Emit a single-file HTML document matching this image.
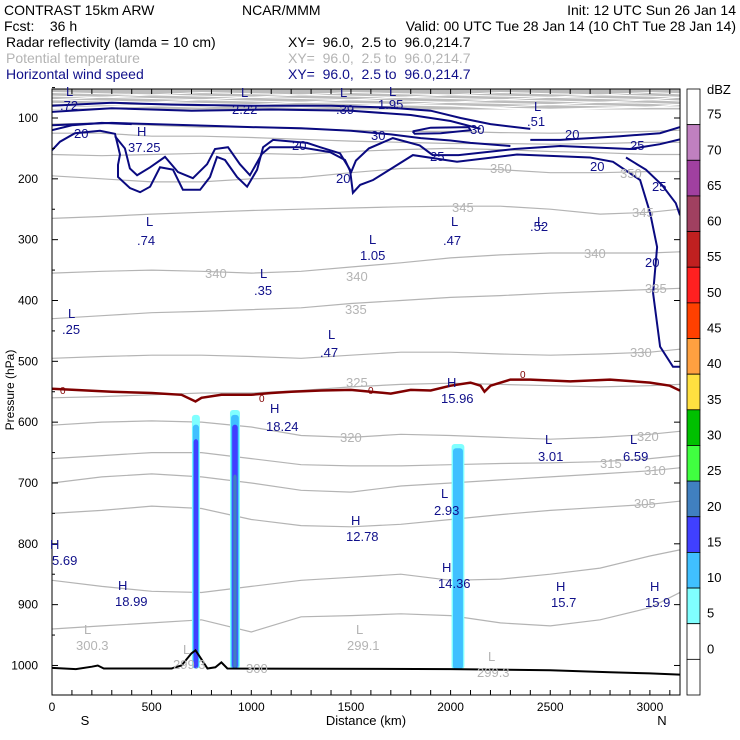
<!DOCTYPE html>
<html><head><meta charset="utf-8"><style>
body{margin:0;background:#fff}
svg{display:block;font-family:"Liberation Sans",sans-serif}
text{white-space:pre}
</style></head><body>
<svg id="chart" width="740" height="740" viewBox="0 0 740 740" xml:space="preserve">
<g font-size="14" fill="#000">
<text x="4" y="15">CONTRAST 15km ARW</text>
<text x="242" y="15">NCAR/MMM</text>
<text x="736" y="15" text-anchor="end">Init: 12 UTC Sun 26 Jan 14</text>
<text x="4" y="31">Fcst:    36 h</text>
<text x="736" y="31" text-anchor="end">Valid: 00 UTC Tue 28 Jan 14 (10 ChT Tue 28 Jan 14)</text>
<text x="6" y="47">Radar reflectivity (lamda = 10 cm)</text>
<text x="288" y="47">XY=  96.0,  2.5 to  96.0,214.7</text>
<text x="6" y="63" fill="#b4b4b4">Potential temperature</text>
<text x="288" y="63" fill="#b4b4b4">XY=  96.0,  2.5 to  96.0,214.7</text>
<text x="6" y="79" fill="#10108a">Horizontal wind speed</text>
<text x="288" y="79" fill="#10108a">XY=  96.0,  2.5 to  96.0,214.7</text>
</g>
<defs><clipPath id="pc"><rect x="52" y="89" width="628" height="606"/></clipPath></defs>
<g id="plot" clip-path="url(#pc)"></g>
<g id="axes"></g>
<g id="cbar"></g>
</svg>
<script>
const xKm=[0,250,500,750,1000,1250,1500,1750,2000,2250,2500,2750,3000,3150];
const thetaLevels=[370,365,360,355,350,345,340,335,330,325,320,315,310,305,302,301];
const thetaP=[
[84,82,80,78,80,82,80,78,80,84,86,84,82,82],
[110,108,112,115,115,118,120,122,122,124,125,124,122,120],
[125,125,130,130,132,135,138,140,142,142,143,142,140,140],
[160,162,160,158,158,160,155,152,150,152,155,157,160,160],
[195,200,205,205,200,198,190,183,182,185,190,190,188,188],
[265,262,258,255,252,250,248,246,245,245,250,258,255,250],
[355,352,350,352,355,352,345,338,330,325,322,322,322,320],
[430,425,420,418,415,412,405,400,395,392,388,385,382,380],
[495,492,490,490,492,495,490,485,485,488,490,488,485,480],
[560,558,555,552,552,548,542,538,536,538,540,542,540,538],
[605,600,598,600,608,622,625,620,622,625,628,625,620,615],
[660,655,650,650,660,670,672,672,670,668,667,665,660,655],
[700,690,685,690,700,712,715,705,700,695,690,685,680,675],
[750,745,738,742,760,770,772,768,760,752,745,740,735,730],
[860,870,878,880,870,860,855,850,860,858,850,840,820,810],
[940,935,930,925,945,920,918,915,918,930,935,925,905,880]];
const denseThetaP=[60,64,68,72,76,80];
const windLines=[
[[0,153],[40,139],[115,125],[241,121],[316,126],[341,160],[331,177],[331,197],[391,215],[442,222],[492,213],[542,181],[607,185],[657,218],[743,218],[793,197],[828,164],[868,169],[928,197],[979,213],[1029,185],[1059,148],[1109,136],[1280,141],[1345,148],[1445,158],[1495,185],[1510,223],[1546,210],[1611,202],[1811,161],[2032,172],[2333,160],[2700,165],[2815,172],[2951,202],[3001,256],[3036,312],[3016,388],[3051,476],[3116,509],[3151,509]],
[[316,130],[366,150],[391,183],[427,194],[492,181],[567,164],[632,189],[707,199],[778,176],[818,151],[883,148],[943,176],[993,194],[1053,159],[1093,148],[1245,148],[1395,156],[1470,169],[1500,190],[1525,170],[1590,150],[1710,133],[1845,145],[1910,161],[2040,161],[2320,151],[2550,146],[2900,151],[3050,143],[3151,135]],
[[2880,165],[2980,185],[3060,210],[3130,240],[3151,260]],
[[0,112],[300,108],[700,112],[1000,115],[1250,117],[1500,121],[1700,127],[1850,133],[2000,137],[2100,141],[2300,146]],
[[0,80],[300,75],[600,78],[1000,80],[1400,80],[1700,83],[1900,88],[2050,100],[2200,110],[2400,118]],
[[0,90],[300,84],[700,88],[1100,86],[1500,88],[1800,95],[2000,105],[2150,118]],
[[1810,122],[1900,116],[2090,115],[2100,120],[1950,125],[1820,126],[1810,122]],
[[2400,136],[2550,136],[2700,133],[2850,130],[3050,125],[3151,115]],
[[0,120],[100,112],[250,108],[400,110]]];
const zeroLine=[[0,545],[300,550],[500,552],[650,555],[720,566],[750,560],[850,555],[1000,555],[1100,552],[1200,550],[1350,548],[1500,547],[1600,550],[1700,553],[1800,547],[1900,548],[2000,540],[2100,535],[2150,540],[2170,550],[2200,540],[2300,530],[2400,530],[2600,533],[2800,530],[3000,535],[3100,540],[3150,548]];
const terrainKm=[0,120,200,230,260,600,650,700,720,740,780,820,850,880,2000,2500,2800,3000,3150];
const terrainP=[1004,1006,1002,1000,1005,1005,1000,980,975,985,1005,1003,995,1005,1006,1008,1011,1013,1015];
const colCenters=[722,918,2037];
const colHalf=[20,25,32];
const colBase=[1005,1005,1006];
const bandTops=[[588,580,636],[604,588,643],[628,604,null],[null,686,null]];
const bandColors=['#80ffff','#40c0ff','#4040ff','#4080c0'];
const cbLabels=['75','70','65','60','55','50','45','40','35','30','25','20','15','10','5','0'];
const cbColors=['#ffffff','#c080c0','#a040a0','#a04060','#c02020','#ff2020','#ff4000','#ffa040','#ffe040','#00c000','#40ff40','#4080c0','#4040ff','#40c0ff','#80ffff','#ffffff','#ffffff'];
const xTickLabels=[0,500,1000,1500,2000,2500,3000];
const pTicks=[100,200,300,400,500,600,700,800,900,1000];

const X=k=>52+k*0.1993, Y=p=>118+(p-100)*0.6083;
const NS='http://www.w3.org/2000/svg';
function mk(t,parent){const e=document.createElementNS(NS,t);parent.appendChild(e);return e;}
const plot=document.getElementById('plot'),axes=document.getElementById('axes'),cbar=document.getElementById('cbar');
const pts=a=>a.map(q=>X(q[0]).toFixed(1)+','+Y(q[1]).toFixed(1)).join(' ');

let bg=mk('rect',plot);


bg.setAttribute('x',52);bg.setAttribute('y',89);bg.setAttribute('width',628);bg.setAttribute('height',Y(86)-89);bg.setAttribute('fill','#bdbdbd');
denseThetaP.forEach((p,i)=>{
  const l=mk('polyline',plot);
  
  
  l.setAttribute('points',pts(xKm.map((k,j)=>[k,p+((j+i)%3-1)*2])));
  l.setAttribute('fill','none');l.setAttribute('stroke','#ffffff');l.setAttribute('stroke-width',1);
});
thetaLevels.forEach((lv,i)=>{
  const l=mk('polyline',plot);
  
  
  l.setAttribute('points',pts(xKm.map((k,j)=>[k,thetaP[i][j]])));
  l.setAttribute('fill','none');l.setAttribute('stroke',i==0?'#ffffff':'#b4b4b4');l.setAttribute('stroke-width',i==0?1.5:1.2);
});
bandTops.forEach((tops,b)=>{
  colCenters.forEach((c,i)=>{
    if(tops[i]==null)return;
    const hw=colHalf[i]*(1-b*0.22);
    const r=mk('rect',plot);
    
    
    r.setAttribute('x',X(c-hw));r.setAttribute('width',X(c+hw)-X(c-hw));
    r.setAttribute('y',Y(tops[i]));r.setAttribute('height',Y(colBase[i])-Y(tops[i]));
    r.setAttribute('rx',3);r.setAttribute('fill',bandColors[b]);
  });
});
windLines.forEach((w,i)=>{
  const l=mk('polyline',plot);
  
  
  l.setAttribute('points',pts(w));l.setAttribute('fill','none');l.setAttribute('stroke','#0a0a80');l.setAttribute('stroke-width',2);
});
const z=mk('polyline',plot);


z.setAttribute('points',pts(zeroLine));z.setAttribute('fill','none');z.setAttribute('stroke','#800000');z.setAttribute('stroke-width',2.5);
const t=mk('polyline',plot);


t.setAttribute('points',pts(terrainKm.map((k,j)=>[k,terrainP[j]])));t.setAttribute('fill','none');t.setAttribute('stroke','#000');t.setAttribute('stroke-width',2);

const fr=mk('rect',axes);


fr.setAttribute('x',52);fr.setAttribute('y',89);fr.setAttribute('width',628);fr.setAttribute('height',606);fr.setAttribute('fill','none');fr.setAttribute('stroke','#000');
for(let k=100;k<3150;k+=100){
  [[695,690],[89,94]].forEach(([a,b])=>{const l=mk('line',axes);
  
  
  l.setAttribute('x1',X(k));l.setAttribute('x2',X(k));l.setAttribute('y1',a);l.setAttribute('y2',b);l.setAttribute('stroke','#000');});
}
xTickLabels.forEach(v=>{const e=mk('text',axes);
  
  
  e.setAttribute('x',X(v));e.setAttribute('y',711);e.setAttribute('font-size',12);e.setAttribute('text-anchor','middle');e.textContent=v;});
pTicks.forEach(p=>{
  [[52,58],[680,674]].forEach(([a,b])=>{const l=mk('line',axes);
  
  
  l.setAttribute('x1',a);l.setAttribute('x2',b);l.setAttribute('y1',Y(p));l.setAttribute('y2',Y(p));l.setAttribute('stroke','#000');});
  const e=mk('text',axes);
  
  
  e.setAttribute('x',38);e.setAttribute('y',Y(p)+4);e.setAttribute('font-size',12);e.setAttribute('text-anchor','end');e.textContent=p;
});
for(let p=50;p<1050;p+=50){if(p%100==0)continue;const l=mk('line',axes);
  
  
  l.setAttribute('x1',52);l.setAttribute('x2',55);l.setAttribute('y1',Y(p));l.setAttribute('y2',Y(p));l.setAttribute('stroke','#000');}

const cbH=606/17;
cbColors.forEach((c,i)=>{const r=mk('rect',cbar);
  
  
  r.setAttribute('x',687);r.setAttribute('y',89+i*cbH);r.setAttribute('width',13);r.setAttribute('height',cbH);r.setAttribute('fill',c);r.setAttribute('stroke','#000');r.setAttribute('stroke-width',0.8);});
cbLabels.forEach((s,i)=>{const e=mk('text',cbar);
  
  
  e.setAttribute('x',707);e.setAttribute('y',89+(i+1)*cbH-6);e.setAttribute('font-size',13);e.textContent=s;});
</script>
<svg width="740" height="740" style="position:absolute;left:0;top:0" font-family="Liberation Sans, sans-serif">
<text x="707" y="94" font-size="13">dBZ</text>
<text x="366" y="725" font-size="13" text-anchor="middle">Distance (km)</text>
<text x="85" y="725" font-size="13" text-anchor="middle">S</text>
<text x="662" y="725" font-size="13" text-anchor="middle">N</text>
<text transform="translate(14,390) rotate(-90)" font-size="12" text-anchor="middle">Pressure (hPa)</text>
<g font-size="13" fill="#10108a">
<text x="66" y="96">L</text><text x="60" y="110">.72</text>
<text x="241" y="97">L</text><text x="232" y="114">2.22</text>
<text x="340" y="97">L</text><text x="336" y="114">.39</text>
<text x="389" y="96">L</text><text x="378" y="109">1.95</text>
<text x="534" y="111">L</text><text x="527" y="126">.51</text>
<text x="137" y="136">H</text><text x="128" y="152">37.25</text>
<text x="146" y="226">L</text><text x="137" y="245">.74</text>
<text x="369" y="244">L</text><text x="360" y="260">1.05</text>
<text x="451" y="226">L</text><text x="443" y="245">.47</text>
<text x="537" y="226">L</text><text x="530" y="231">.52</text>
<text x="260" y="278">L</text><text x="254" y="295">.35</text>
<text x="68" y="318">L</text><text x="62" y="334">.25</text>
<text x="328" y="339">L</text><text x="320" y="357">.47</text>
<text x="447" y="387">H</text><text x="441" y="403">15.96</text>
<text x="270" y="413">H</text><text x="266" y="431">18.24</text>
<text x="545" y="444">L</text><text x="538" y="461">3.01</text>
<text x="630" y="444">L</text><text x="623" y="461">6.59</text>
<text x="441" y="498">L</text><text x="434" y="515">2.93</text>
<text x="351" y="525">H</text><text x="346" y="541">12.78</text>
<text x="50" y="549">H</text><text x="52" y="565">5.69</text>
<text x="442" y="572">H</text><text x="438" y="588">14.36</text>
<text x="118" y="590">H</text><text x="115" y="606">18.99</text>
<text x="556" y="591">H</text><text x="551" y="607">15.7</text>
<text x="650" y="591">H</text><text x="645" y="607">15.9</text>
<text x="74" y="138">20</text><text x="292" y="150">20</text><text x="336" y="183">20</text>
<text x="371" y="140">30</text><text x="470" y="134">30</text><text x="430" y="161">25</text>
<text x="565" y="139">20</text><text x="630" y="150">25</text><text x="590" y="171">20</text>
<text x="652" y="191">25</text><text x="645" y="267">20</text>
</g>
<g font-size="13" fill="#b4b4b4">
<text x="205" y="278">340</text><text x="346" y="281">340</text><text x="584" y="258">340</text>
<text x="345" y="314">335</text><text x="645" y="293">335</text>
<text x="452" y="212">345</text><text x="632" y="217">345</text>
<text x="490" y="173">350</text><text x="620" y="178">350</text>
<text x="630" y="357">330</text><text x="346" y="387">325</text>
<text x="340" y="442">320</text><text x="637" y="441">320</text>
<text x="600" y="468">315</text><text x="644" y="475">310</text><text x="634" y="508">305</text>
<text x="84" y="634">L</text><text x="76" y="650">300.3</text>
<text x="356" y="634">L</text><text x="347" y="650">299.1</text>
<text x="183" y="654">L</text><text x="173" y="669">299.3</text>
<text x="488" y="661">L</text><text x="477" y="677">299.3</text>
<text x="246" y="673">300</text>
</g>
<g font-size="10" fill="#800000">
<text x="60" y="394">0</text><text x="259" y="402">0</text><text x="368" y="394">0</text><text x="520" y="378">0</text>
</g>
</svg>
</body></html>
